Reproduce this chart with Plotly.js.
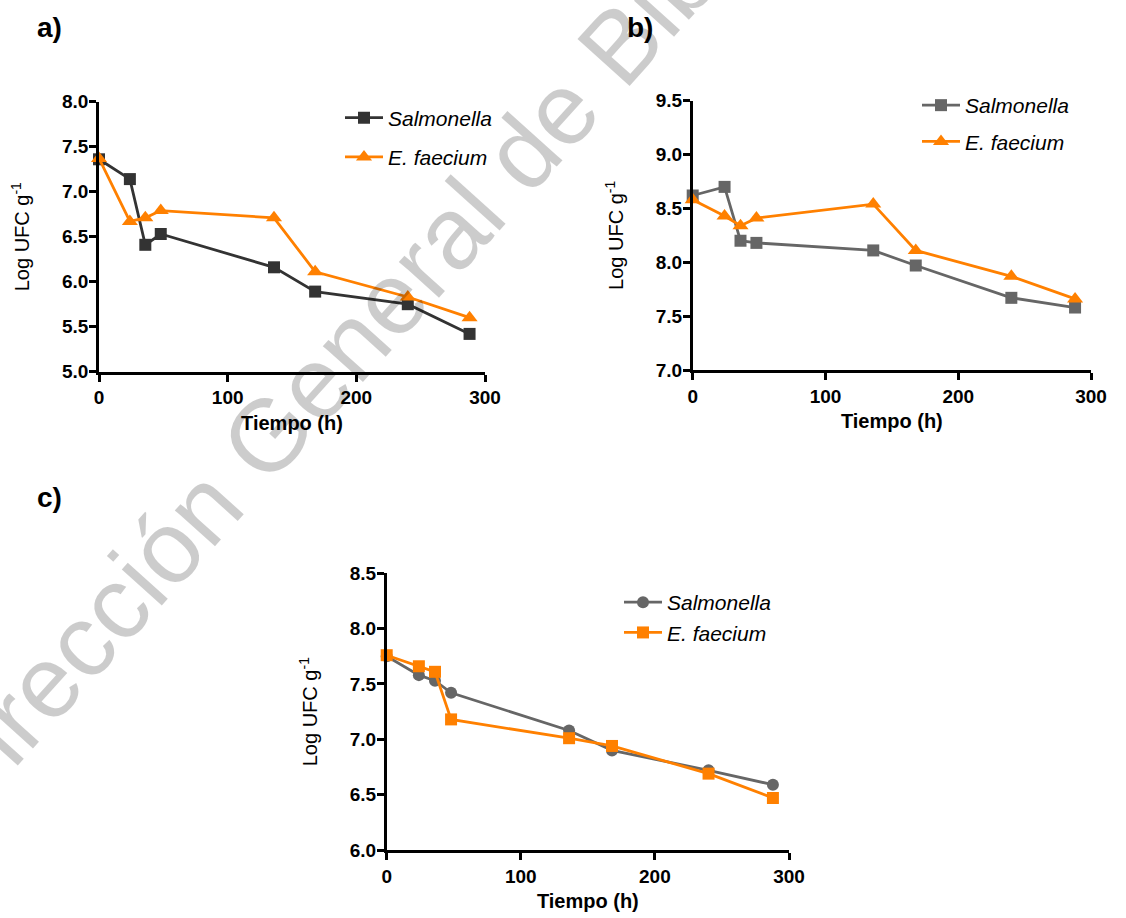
<!DOCTYPE html>
<html>
<head>
<meta charset="utf-8">
<script src="https://cdn.plot.ly/plotly-3.0.1.min.js"></script>
<style>html,body{margin:0;padding:0;background:#fff;}#chart{width:1126px;height:918px;}</style>
</head>
<body>
<div id="chart"></div>
<script>
// ---- data ----
const timeHours = [0, 24, 36, 48, 136, 168, 240, 288];
const seriesNames = ["Salmonella", "E. faecium"];

const salmonellaA = [7.36, 7.14, 6.41, 6.53, 6.16, 5.89, 5.75, 5.42];
const faeciumA    = [7.37, 6.67, 6.71, 6.79, 6.71, 6.11, 5.83, 5.60];

const salmonellaB = [8.62, 8.70, 8.20, 8.18, 8.11, 7.97, 7.67, 7.58];
const faeciumB    = [8.58, 8.43, 8.34, 8.41, 8.54, 8.11, 7.87, 7.66];

const salmonellaC = [7.75, 7.58, 7.53, 7.42, 7.08, 6.90, 6.72, 6.59];
const faeciumC    = [7.76, 7.66, 7.61, 7.18, 7.01, 6.94, 6.69, 6.47];

const xTicks = [0, 100, 200, 300];
const yTicksA = [5.0, 5.5, 6.0, 6.5, 7.0, 7.5, 8.0];
const yTicksB = [7.0, 7.5, 8.0, 8.5, 9.0, 9.5];
const yTicksC = [6.0, 6.5, 7.0, 7.5, 8.0, 8.5];

const panelLabels = ["a)", "b)", "c)"];
const xTitle = "Tiempo (h)";
const yTitle = "Log UFC g<sup>-1</sup>";
const watermarkText = "Dirección General de Bibliotecas";

// ---- styles ----
const FONT = "Liberation Sans, Arial, Helvetica, sans-serif";
const ORANGE = "#ff8000";
const W = 1126, H = 918;
const px = v => v / W;
const py = v => 1 - v / H;

function trace(x, y, name, color, symbol, size, xa, ya, leg, grp) {
  return {
    x: x, y: y, name: name, type: "scatter", mode: "lines+markers",
    xaxis: xa, yaxis: ya, legend: leg, legendgroup: grp,
    line: {color: color, width: 2.8},
    marker: {color: color, symbol: symbol, size: size},
    cliponaxis: false,
    hoverinfo: "x+y+name"
  };
}

const data = [
  trace(timeHours, salmonellaA, seriesNames[0], "#333333", "square", 12, "x", "y", "legend", "a1"),
  trace(timeHours, faeciumA, seriesNames[1], ORANGE, "triangle-up", 14, "x", "y", "legend", "a2"),
  trace(timeHours, salmonellaB, seriesNames[0], "#666666", "square", 12, "x2", "y2", "legend2", "b1"),
  trace(timeHours, faeciumB, seriesNames[1], ORANGE, "triangle-up", 14, "x2", "y2", "legend2", "b2"),
  trace(timeHours, salmonellaC, seriesNames[0], "#666666", "circle", 12, "x3", "y3", "legend3", "c1"),
  trace(timeHours, faeciumC, seriesNames[1], ORANGE, "square", 12, "x3", "y3", "legend3", "c2")
];

function xaxis(domain, anchor) {
  return {
    domain: domain, anchor: anchor, range: [0, 300],
    tickvals: xTicks, ticks: "outside", ticklen: 7, tickwidth: 2.5, tickcolor: "#000",
    showline: true, linecolor: "#000", linewidth: 2.6,
    showgrid: false, zeroline: false,
    tickfont: {family: FONT, size: 19, color: "#000", weight: "bold"},
    title: {text: "<b>" + xTitle + "</b>", font: {family: FONT, size: 20, color: "#000"}, standoff: 9}
  };
}
function yaxis(domain, anchor, range, ticks) {
  return {
    domain: domain, anchor: anchor, range: range,
    tickvals: ticks, tickformat: ".1f", ticks: "outside", ticklen: 7, tickwidth: 2.5, tickcolor: "#000",
    showline: true, linecolor: "#000", linewidth: 2.6,
    showgrid: false, zeroline: false, ticklabelstandoff: -3,
    tickfont: {family: FONT, size: 19, color: "#000", weight: "bold"},
    title: {text: yTitle, font: {family: FONT, size: 20, color: "#000"}, standoff: 27}
  };
}
function legend(x, y, gap) {
  return {
    x: x, y: y, xanchor: "left", yanchor: "top",
    bgcolor: "rgba(0,0,0,0)", borderwidth: 0,
    traceorder: "grouped", tracegroupgap: gap, itemwidth: 38,
    font: {family: FONT, size: 21, color: "#000", style: "italic"}
  };
}

const layout = {
  width: W, height: H,
  margin: {l: 0, r: 0, t: 0, b: 0},
  paper_bgcolor: "#fff", plot_bgcolor: "rgba(0,0,0,0)",
  showlegend: true,
  font: {family: FONT},
  xaxis:  xaxis([px(99), px(485)], "y"),
  yaxis:  yaxis([py(371.7), py(101.7)], "x", [5, 8], yTicksA),
  xaxis2: xaxis([px(692.7), px(1091)], "y2"),
  yaxis2: yaxis([py(370), py(100.7)], "x2", [7, 9.5], yTicksB),
  xaxis3: xaxis([px(386.7), px(789)], "y3"),
  yaxis3: yaxis([py(850), py(573.3)], "x3", [6, 8.5], yTicksC),
  legend:  legend(px(340), py(97.5), 9),
  legend2: legend(px(917), py(85), 6),
  legend3: legend(px(619), py(582), 0),
  annotations: [
    {text: watermarkText, xref: "paper", yref: "paper", x: px(433), y: py(252),
     xanchor: "center", yanchor: "middle", textangle: -48, showarrow: false,
     font: {family: FONT, size: 102, color: "rgba(0,0,0,0.2)"}},
    {text: "<b>" + panelLabels[0] + "</b>", xref: "paper", yref: "paper", x: px(35), y: py(28),
     xanchor: "left", yanchor: "middle", showarrow: false, font: {family: FONT, size: 28, color: "#000"}},
    {text: "<b>" + panelLabels[1] + "</b>", xref: "paper", yref: "paper", x: px(625), y: py(28),
     xanchor: "left", yanchor: "middle", showarrow: false, font: {family: FONT, size: 28, color: "#000"}},
    {text: "<b>" + panelLabels[2] + "</b>", xref: "paper", yref: "paper", x: px(35), y: py(497),
     xanchor: "left", yanchor: "middle", showarrow: false, font: {family: FONT, size: 28, color: "#000"}}
  ]
};

Plotly.newPlot("chart", data, layout, {displayModeBar: false, responsive: false});
</script>
</body>
</html>
